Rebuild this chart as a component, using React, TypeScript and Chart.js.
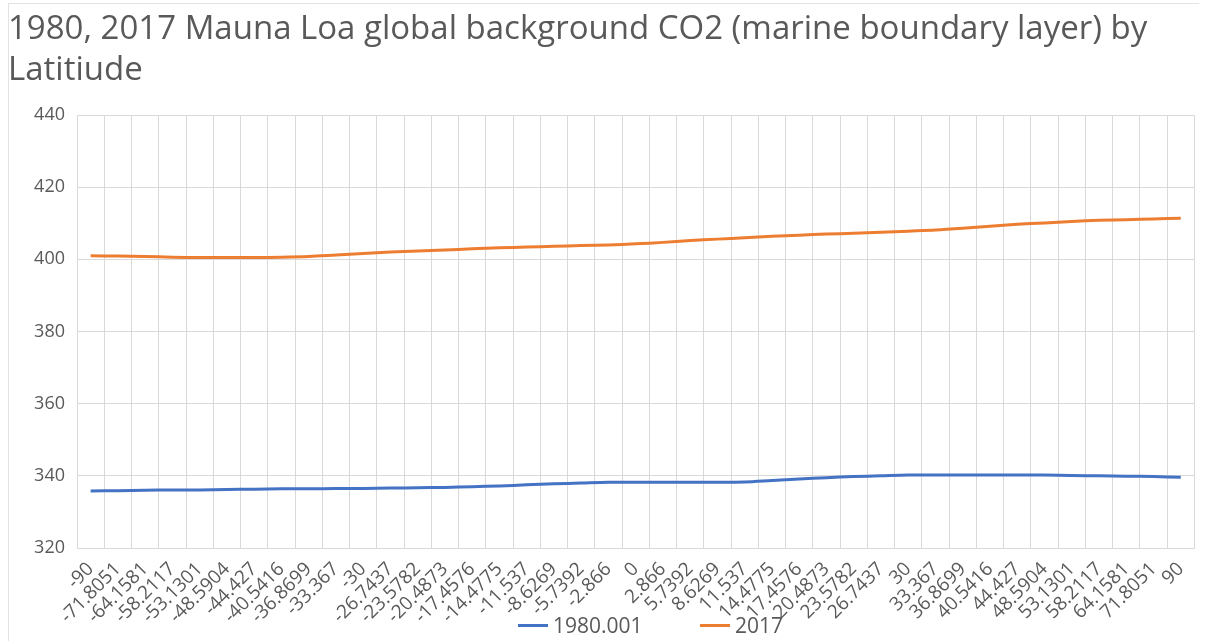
import React, { useEffect, useRef } from "react";
import { Chart, registerables } from "chart.js";

Chart.register(...registerables);

const latitudes: string[] = [
  "-90", "-71.8051", "-64.1581", "-58.2117", "-53.1301", "-48.5904", "-44.427", "-40.5416", "-36.8699", "-33.367",
  "-30", "-26.7437", "-23.5782", "-20.4873", "-17.4576", "-14.4775", "-11.537", "-8.6269", "-5.7392", "-2.866",
  "0", "2.866", "5.7392", "8.6269", "11.537", "14.4775", "17.4576", "20.4873", "23.5782", "26.7437",
  "30", "33.367", "36.8699", "40.5416", "44.427", "48.5904", "53.1301", "58.2117", "64.1581", "71.8051", "90",
];

const co2_1980: number[] = [
  335.8, 335.9, 336.0, 336.1, 336.1, 336.2, 336.3, 336.4, 336.4, 336.5,
  336.5, 336.6, 336.7, 336.8, 337.0, 337.2, 337.5, 337.8, 338.0, 338.2,
  338.2, 338.2, 338.2, 338.2, 338.3, 338.7, 339.1, 339.5, 339.8, 340.0,
  340.2, 340.2, 340.2, 340.2, 340.2, 340.2, 340.1, 340.0, 339.9, 339.8, 339.6,
];

const co2_2017: number[] = [
  401.0, 400.9, 400.8, 400.6, 400.5, 400.5, 400.5, 400.6, 400.8, 401.2,
  401.6, 402.0, 402.3, 402.6, 402.9, 403.2, 403.4, 403.6, 403.8, 404.0,
  404.3, 404.7, 405.2, 405.6, 406.0, 406.4, 406.7, 407.0, 407.2, 407.5,
  407.8, 408.1, 408.6, 409.2, 409.7, 410.1, 410.5, 410.8, 411.0, 411.2, 411.4,
];

const seriesNames: string[] = ["1980.001", "2017"];
const titleText = "1980, 2017 Mauna Loa global background CO2 (marine boundary layer) by Latitiude";

const BLUE = "#4472C4";
const ORANGE = "#ED7D31";
const TEXT = "#595959";
const GRID = "#d9d9d9";
const FONT = "'Open Sans', 'Noto Sans', sans-serif";

export default function App() {
  const canvasRef = useRef<HTMLCanvasElement | null>(null);

  useEffect(() => {
    if (!canvasRef.current) return;
    const chart = new Chart(canvasRef.current, {
      type: "line",
      data: {
        labels: latitudes,
        datasets: [
          {
            label: seriesNames[0],
            data: co2_1980,
            borderColor: BLUE,
            backgroundColor: BLUE,
            borderWidth: 3,
            pointRadius: 0,
            tension: 0.3,
          },
          {
            label: seriesNames[1],
            data: co2_2017,
            borderColor: ORANGE,
            backgroundColor: ORANGE,
            borderWidth: 3,
            pointRadius: 0,
            tension: 0.3,
          },
        ],
      },
      options: {
        animation: false,
        responsive: false,
        maintainAspectRatio: false,
        layout: { padding: { top: 115, right: 9, bottom: 0, left: 0 } },
        plugins: {
          legend: { display: false },
          title: { display: false },
          tooltip: { enabled: false },
        },
        scales: {
          x: {
            type: "category",
            offset: true,
            grid: { offset: true, color: GRID, lineWidth: 1, drawTicks: false },
            border: { color: GRID, width: 1 },
            ticks: {
              autoSkip: false,
              maxRotation: 45,
              minRotation: 45,
              padding: 10,
              color: TEXT,
              font: { family: FONT, size: 19 },
            },
            afterFit: (scale: any) => {
              scale.height = 93;
            },
          },
          y: {
            min: 320,
            max: 440,
            ticks: {
              stepSize: 20,
              padding: 12,
              color: TEXT,
              font: { family: FONT, size: 18 },
            },
            grid: { color: GRID, lineWidth: 1, drawTicks: false },
            border: { display: false },
            afterFit: (scale: any) => {
              scale.width = 77;
            },
          },
        },
      },
    });
    return () => chart.destroy();
  }, []);

  const legendItem = (color: string, text: string, left: number) => (
    <div
      style={{
        position: "absolute",
        left,
        top: 611,
        display: "flex",
        alignItems: "center",
        fontFamily: FONT,
        fontSize: 21,
        color: TEXT,
        whiteSpace: "nowrap",
      }}
    >
      <span style={{ display: "inline-block", width: 30, height: 3, background: color, marginRight: 5 }} />
      <span>{text}</span>
    </div>
  );

  return (
    <div style={{ position: "absolute", left: 0, top: 0, width: 1207, height: 641, background: "#fff", overflow: "hidden" }}>
      <div style={{ position: "absolute", left: 8, top: 3, width: 1190, height: 700, borderLeft: "1px solid #e3e3e3", borderTop: "1px solid #e3e3e3" }} />
      <canvas ref={canvasRef} width={1207} height={641} style={{ position: "absolute", left: 0, top: 0 }} />
      <div
        style={{
          position: "absolute",
          left: 8,
          top: 6,
          width: 1170,
          fontFamily: FONT,
          fontSize: 33,
          lineHeight: "41px",
          color: TEXT,
        }}
      >
        {titleText}
      </div>
      {legendItem(BLUE, seriesNames[0], 518)}
      {legendItem(ORANGE, seriesNames[1], 700)}
    </div>
  );
}
